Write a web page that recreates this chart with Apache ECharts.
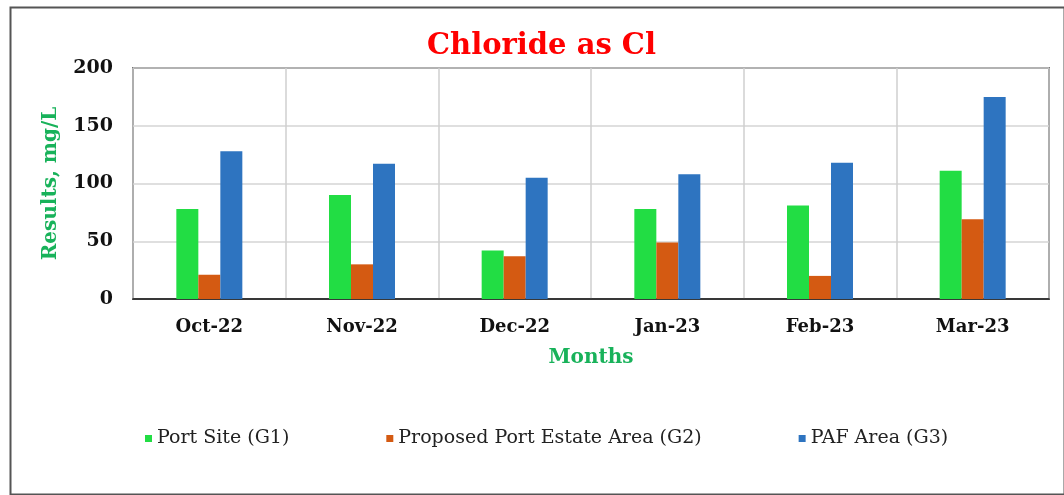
<!DOCTYPE html>
<html><head><meta charset="utf-8">
<script src="https://cdn.jsdelivr.net/npm/echarts@6/dist/echarts.min.js"></script>
<style>html,body{margin:0;padding:0;background:#fff}#c{width:1064px;height:495px}</style>
</head><body><div id="c"></div>
<script>
const categories = ['Oct-22','Nov-22','Dec-22','Jan-23','Feb-23','Mar-23'];
const portSite = [78, 90, 42, 78, 81, 111];
const proposedPortEstate = [21, 30, 37, 49, 20, 69];
const pafArea = [128, 117, 105, 108, 118, 175];
const seriesNames = ['Port Site (G1)', 'Proposed Port Estate Area (G2)', 'PAF Area (G3)'];
const yTicks = [0, 50, 100, 150, 200];

const chart = echarts.init(document.getElementById('c'), null, {renderer:'canvas'});
const serif = '"DejaVu Serif", "Liberation Serif", serif';
chart.setOption({
  backgroundColor: '#fff',
  animation: false,
  graphic: [{
    type: 'rect', left: 8, top: 5, shape: {width: 1054, height: 487},
    style: {fill: 'none', stroke: '#555', lineWidth: 2}, silent: true
  }],
  title: {
    text: 'Chloride as Cl', left: 422, top: 27,
    textStyle: {color: '#ff0000', fontFamily: serif, fontWeight: 'bold', fontSize: 29}
  },
  legend: {
    bottom: 42, left: 140, itemGap: 97, itemWidth: 7, itemHeight: 7, icon: 'rect',
    textStyle: {fontFamily: serif, fontSize: 19, color: '#222'},
    data: seriesNames
  },
  grid: {left: 133, right: 15, top: 68, bottom: 196, show: true, borderColor: '#111', borderWidth: 1.5, containLabel: false},
  xAxis: {
    type: 'category', data: categories,
    name: 'Months', nameLocation: 'middle', nameGap: 49,
    nameTextStyle: {color: '#18b25a', fontFamily: serif, fontWeight: 'bold', fontSize: 20},
    axisLine: {lineStyle: {color: '#111', width: 1.5}},
    axisTick: {show: false},
    axisLabel: {color: '#111', fontFamily: serif, fontWeight: 'bold', fontSize: 18, margin: 19},
    splitLine: {show: true, lineStyle: {color: '#cfcfcf', width: 1.5}}
  },
  yAxis: {
    type: 'value', min: yTicks[0], max: yTicks[yTicks.length-1], interval: 50,
    name: 'Results, mg/L', nameLocation: 'middle', nameGap: 72,
    nameTextStyle: {color: '#18b25a', fontFamily: serif, fontWeight: 'bold', fontSize: 20},
    axisLine: {show: false}, axisTick: {show: false},
    axisLabel: {color: '#111', fontFamily: serif, fontWeight: 'bold', fontSize: 19, margin: 20},
    splitLine: {show: true, lineStyle: {color: '#d4d4d4', width: 1.5}}
  },
  series: [
    {name: seriesNames[0], type: 'bar', data: portSite, barWidth: 22, barGap: '0%', itemStyle: {color: '#22dd44'}},
    {name: seriesNames[1], type: 'bar', data: proposedPortEstate, barWidth: 22, barGap: '0%', itemStyle: {color: '#d45a12'}},
    {name: seriesNames[2], type: 'bar', data: pafArea, barWidth: 22, barGap: '0%', itemStyle: {color: '#2e74c0'}}
  ]
});
</script></body></html>
